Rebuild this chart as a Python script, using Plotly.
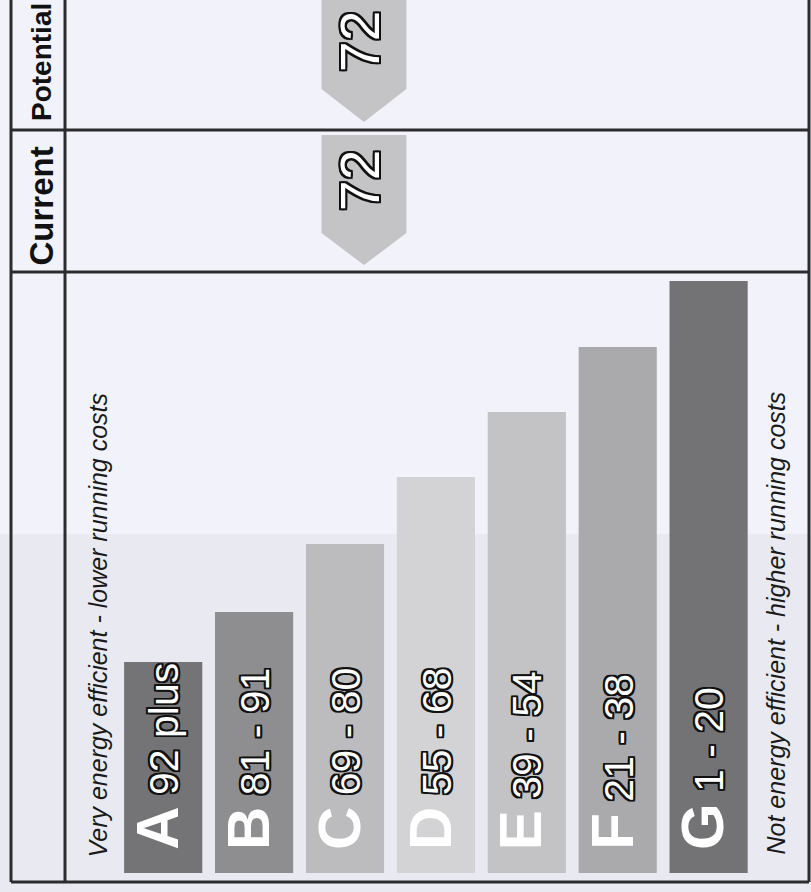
import plotly.graph_objects as go

# ---------------- data ----------------
bands = ["A", "B", "C", "D", "E", "F", "G"]
band_ranges = ["92 plus", "81 - 91", "69 - 80", "55 - 68", "39 - 54", "21 - 38", "1 - 20"]
band_lo = [92, 81, 69, 55, 39, 21, 1]
band_hi = [100, 91, 80, 68, 54, 38, 20]
bar_lengths = [211, 261, 329, 396, 461, 526, 592]
bar_colors = ["#747476", "#8e8e91", "#bcbcbf", "#d3d3d6", "#c3c3c6", "#aaaaad", "#737375"]
current_score = 72
potential_score = 72
row_labels = ["Current", "Potential"]
top_note = "Very energy efficient - lower running costs"
bottom_note = "Not energy efficient - higher running costs"

# ---------------- layout helpers ----------------
W, H = 811, 892
BAR_BASE_PX = 873


def px(x):
    return x / W


def py(y):
    return 1 - y / H


def score_index(s):
    for i, (lo, hi) in enumerate(zip(band_lo, band_hi)):
        if lo <= s <= hi:
            return i - 0.5 + (hi + 0.5 - s) / (hi - lo + 1)
    return 0


def outline(w, col="#111"):
    offs = [(-w, -w), (w, -w), (-w, w), (w, w), (0, w), (0, -w), (w, 0), (-w, 0)]
    return ", ".join(f"{a}px {b}px 0 {col}" for a, b in offs)


LINE = "#2c2c2e"
ARROW = "#c4c4c7"
FONT = "Arial, Liberation Sans, Helvetica, sans-serif"

fig = go.Figure()
fig.add_trace(go.Bar(
    x=list(range(len(bands))), y=bar_lengths, width=0.86,
    marker=dict(color=bar_colors, line=dict(width=0)),
    hoverinfo="skip", showlegend=False,
))

shapes = []
# lower background tint
shapes.append(dict(type="rect", xref="paper", yref="paper", x0=0, x1=1, y0=0, y1=py(534),
                   fillcolor="#e9eaf1", line=dict(width=0), layer="below"))
# frame lines
lw = 3
for x in (11, 65, 809):
    shapes.append(dict(type="line", xref="paper", yref="paper", x0=px(x), x1=px(x),
                       y0=py(882), y1=1.0, line=dict(color=LINE, width=lw)))
for y in (130, 272, 882):
    shapes.append(dict(type="line", xref="paper", yref="paper", x0=px(11), x1=px(809),
                       y0=py(y), y1=py(y), line=dict(color=LINE, width=lw)))

# arrows
half_w = 0.4675
arrow_rows = [
    (current_score, 135, 233, 265, 180),
    (potential_score, -8, 89, 122, 41),
]
annotations = []
for score, top, shoulder, tip, text_c in arrow_rows:
    c = score_index(score)
    path = (f"M {c - half_w},{py(top)} L {c + half_w},{py(top)} L {c + half_w},{py(shoulder)} "
            f"L {c},{py(tip)} L {c - half_w},{py(shoulder)} Z")
    shapes.append(dict(type="path", xref="x", yref="paper", path=path,
                       fillcolor=ARROW, line=dict(width=0)))
    annotations.append(dict(x=c, y=py(text_c), xref="x", yref="paper", text=str(score),
                            showarrow=False, textangle=-90, xanchor="center", yanchor="middle",
                            xshift=-4,
                            font=dict(family=FONT, size=55, color="white", shadow=outline(2))))

# bar labels
num_outline = outline(1.8)
for i, (b, r) in enumerate(zip(bands, band_ranges)):
    txt = (f"<b><span style='font-size:60px'>{b}</span></b> "
           f"<span style='text-shadow:{num_outline}'>{r}</span>")
    annotations.append(dict(x=i, y=0, xref="x", yref="y", text=txt, showarrow=False,
                            textangle=-90, xanchor="center", yanchor="bottom",
                            xshift=-6, yshift=21,
                            font=dict(family=FONT, size=41, color="white")))

# row labels
for lab, ybot, fs in zip(row_labels, (268, 123), (33, 28)):
    annotations.append(dict(x=px(41), y=py(ybot), xref="paper", yref="paper",
                            text=f"<b>{lab}</b>", showarrow=False, textangle=-90,
                            xanchor="center", yanchor="bottom",
                            font=dict(family=FONT, size=fs, color="#111111")))

# side notes
annotations.append(dict(x=px(97), y=py(860), xref="paper", yref="paper", text=f"<i>{top_note}</i>",
                        showarrow=False, textangle=-90, xanchor="center", yanchor="bottom",
                        font=dict(family=FONT, size=25, color="#1a1a1a")))
annotations.append(dict(x=px(775), y=py(857), xref="paper", yref="paper", text=f"<i>{bottom_note}</i>",
                        showarrow=False, textangle=-90, xanchor="center", yanchor="bottom",
                        font=dict(family=FONT, size=25, color="#1a1a1a")))

fig.update_layout(
    width=W, height=H, margin=dict(l=0, r=0, t=0, b=0),
    paper_bgcolor="#f2f3fa", plot_bgcolor="rgba(0,0,0,0)",
    xaxis=dict(range=[-0.5, 6.5], domain=[117.75 / W, 754.05 / W], visible=False, fixedrange=True),
    yaxis=dict(range=[-(H - BAR_BASE_PX), BAR_BASE_PX], domain=[0, 1], visible=False, fixedrange=True),
    shapes=shapes, annotations=annotations, showlegend=False,
)

fig.write_html("out.html", config={"displayModeBar": False},
               post_script="document.body.style.margin='0px';document.body.style.overflow='hidden';")
